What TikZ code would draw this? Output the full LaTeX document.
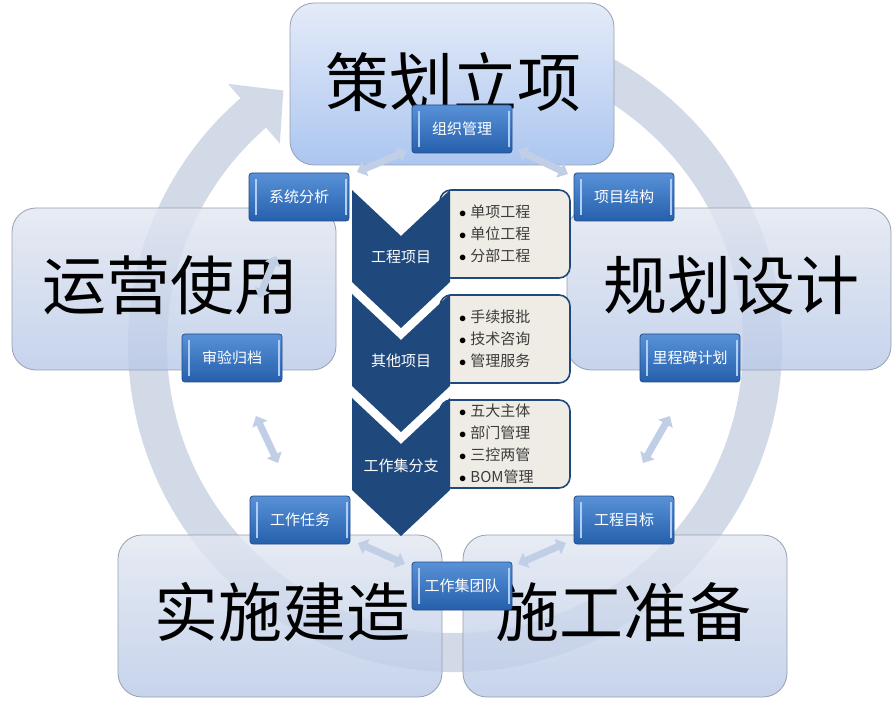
\documentclass[tikz,border=0pt]{standalone}
\usepackage{fontspec}
\newfontfamily\cjk{Noto Sans CJK SC}
\usetikzlibrary{arrows.meta}
\definecolor{ringcol}{RGB}{210,217,231}
\definecolor{boxedge}{RGB}{150,160,178}
\definecolor{boxtop}{RGB}{226,231,241}
\definecolor{boxbot}{RGB}{186,202,232}
\definecolor{topboxtop}{RGB}{228,235,248}
\definecolor{topboxbot}{RGB}{172,198,240}
\definecolor{chev}{RGB}{31,73,125}
\definecolor{listfill}{RGB}{238,236,228}
\definecolor{listtext}{RGB}{60,60,60}
\definecolor{btntop}{RGB}{88,145,215}
\definecolor{btnbot}{RGB}{38,96,172}
\definecolor{btnedge}{RGB}{35,75,135}
\definecolor{btnhi}{RGB}{175,205,245}
\definecolor{arrowfill}{RGB}{192,206,230}
\newcommand\blt{{\color{black}$\bullet$}\hspace{4pt}}
\begin{document}
\begin{tikzpicture}[x=1pt,y=-1pt,
  bigbox/.style={rounded corners=24pt, draw=boxedge, line width=0.8pt,
    top color=boxtop, bottom color=boxbot, fill opacity=0.82,
    minimum width=324pt, minimum height=162pt, inner sep=0pt},
  topbox/.style={bigbox, top color=topboxtop, bottom color=topboxbot, fill opacity=1},
  bigtext/.style={font=\cjk\fontsize{64}{64}\selectfont, text=black, inner sep=0pt},
  btn/.style={rounded corners=3pt, draw=btnedge, line width=0.8pt,
    top color=btntop, bottom color=btnbot, minimum width=100pt, minimum height=48pt,
    inner sep=0pt, text=white, font=\cjk\fontsize{15}{15}\selectfont,
    path picture={
      \draw[btnhi, line width=1.5pt] ([xshift=7pt,yshift=6pt]path picture bounding box.south west) -- ([xshift=7pt,yshift=-6pt]path picture bounding box.north west);
      \draw[btnhi, line width=1.2pt] ([xshift=-3pt,yshift=6pt]path picture bounding box.south east) -- ([xshift=-3pt,yshift=-6pt]path picture bounding box.north east);}},
  listbox/.style={draw=chev, line width=1.6pt, fill=listfill, rounded corners=11pt},
  listtxt/.style={font=\cjk\fontsize{15}{22}\selectfont, text=listtext, align=left, inner sep=0pt, anchor=west},
  chevtxt/.style={font=\cjk\fontsize{15}{15}\selectfont, text=white, inner sep=0pt},
  dbl/.style={line width=7pt, draw=arrowfill, {Triangle[width=16pt,length=9pt]}-{Triangle[width=16pt,length=9pt]}}
]
\useasboundingbox (0,0) rectangle (892,703);

% background circular arrow
\fill[ringcol, shift={(455,345)}] (-100:327) arc[start angle=-100, end angle=229, radius=327]
  -- (229:346) -- (236:307) -- (229:267) -- (229:288)
  arc[start angle=229, end angle=-100, radius=288] -- cycle;

% big stage boxes
\node[bigbox] (yy) at (174,289) {};
\node[bigbox] (gh) at (729,289) {};
\node[bigbox] (ss) at (280,616) {};
\node[bigbox] (sg) at (625,616) {};
\node[topbox] (ch) at (452,84) {};

\node[bigtext] (tch) at (453,82) {策划立项};
\node[bigtext] (tyy) at (170,285) {运营使用};
\node[bigtext] (tgh) at (731,285) {规划设计};
\node[bigtext] (tss) at (282,612) {实施建造};
\node[bigtext] (tsg) at (623,612) {施工准备};

% list boxes
\path[listbox] (440,190) rectangle (570,278);
\path[listbox] (440,295) rectangle (570,383);
\path[listbox] (440,400) rectangle (570,488);

% chevrons
\foreach \t in {190,294,398}{
  \fill[chev] (352,\t) -- (401,\t+46) -- (450,\t) -- (450,\t+92) -- (401,\t+138) -- (352,\t+92) -- cycle;
}
\node[chevtxt] (c1) at (401,257) {工程项目};
\node[chevtxt] (c2) at (401,361) {其他项目};
\node[chevtxt] (c3) at (401,466) {工作集分支};

\node[listtxt] (l1) at (459,234) {\blt 单项工程\\\blt 单位工程\\\blt 分部工程};
\node[listtxt] (l2) at (459,339) {\blt 手续报批\\\blt 技术咨询\\\blt 管理服务};
\node[listtxt] (l3) at (459,444) {\blt 五大主体\\\blt 部门管理\\\blt 三控两管\\\blt BOM管理};

% double arrows
\coordinate (a1s) at (357,172); \coordinate (a1e) at (407,151);
\coordinate (a2s) at (518,150); \coordinate (a2e) at (568,174);
\coordinate (a3s) at (276,256); \coordinate (a3e) at (259,298);
\coordinate (a4s) at (256,416); \coordinate (a4e) at (278,463);
\coordinate (a5s) at (670,416); \coordinate (a5e) at (643,463);
\coordinate (a6s) at (358,543); \coordinate (a6e) at (405,564);
\coordinate (a7s) at (566,543); \coordinate (a7e) at (518,564);
\draw[dbl] (a1s) -- (a1e);
\draw[dbl] (a2s) -- (a2e);
\draw[dbl] (a3s) -- (a3e);
\draw[dbl] (a4s) -- (a4e);
\draw[dbl] (a5s) -- (a5e);
\draw[dbl] (a6s) -- (a6e);
\draw[dbl] (a7s) -- (a7e);

% buttons
\node[btn] (zz) at (462,129) {组织管理};
\node[btn] (xt) at (299,197) {系统分析};
\node[btn] (xm) at (624,197) {项目结构};
\node[btn] (sy) at (232,358) {审验归档};
\node[btn] (lc) at (690,358) {里程碑计划};
\node[btn] (gr) at (300,520) {工作任务};
\node[btn] (gm) at (624,520) {工程目标};
\node[btn] (gt) at (462,586) {工作集团队};
\end{tikzpicture}
\end{document}
